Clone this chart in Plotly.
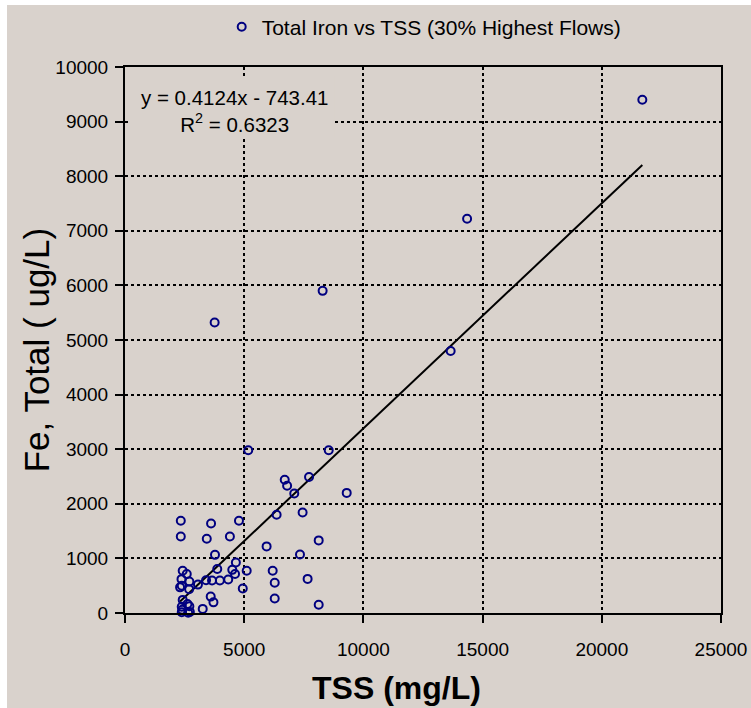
import plotly.graph_objects as go

# ---- data ----
tss = [21700, 14350, 8290, 3760, 13660, 5170, 8545, 7720, 6700, 6800,
       9300, 7100, 7450, 6360, 2340, 4780, 3610, 2340, 4400, 3430,
       8125, 5940, 3775, 7340, 4650, 3870, 4500, 2420, 5105, 6195,
       2590, 4615, 7660, 2370, 3400, 3650, 3980, 4330, 2700, 6280,
       3060, 2310, 2380, 4940, 2690, 3595, 6280, 2420, 3710, 2620,
       8125, 2700, 2380, 3260, 2400, 2720, 2380, 2650]
fe_total = [9400, 7220, 5900, 5320, 4800, 2980, 2980, 2490, 2440, 2330,
            2200, 2190, 1840, 1800, 1690, 1690, 1640, 1400, 1400, 1360,
            1330, 1220, 1065, 1070, 925, 805, 790, 775, 775, 775,
            715, 715, 625, 620, 600, 595, 595, 615, 575, 555,
            520, 470, 500, 450, 435, 300, 265, 240, 195, 165,
            150, 125, 115, 75, 60, 20, 15, 5]

slope = 0.4124
intercept = -743.41
r_squared = 0.6323
series_name = "Total Iron vs TSS (30% Highest Flows)"
x_title = "TSS (mg/L)"
y_title = "Fe, Total ( ug/L)"
x_ticks = [0, 5000, 10000, 15000, 20000, 25000]
y_ticks = [0, 1000, 2000, 3000, 4000, 5000, 6000, 7000, 8000, 9000, 10000]

BG = "#D9D2CC"
NAVY = "#000080"
FONT = "Liberation Sans, Arial, sans-serif"

fig = go.Figure()

# trendline across the data range
x_line = [min(tss), max(tss)]
y_line = [slope * v + intercept for v in x_line]
fig.add_trace(go.Scatter(x=x_line, y=y_line, mode="lines",
                         line=dict(color="black", width=2),
                         showlegend=False, hoverinfo="skip"))

fig.add_trace(go.Scatter(x=tss, y=fe_total, mode="markers", name=series_name,
                         marker=dict(symbol="circle-open", size=8, color=NAVY,
                                     line=dict(width=2, color=NAVY)),
                         cliponaxis=False))

axis_common = dict(
    showline=True, linecolor="black", linewidth=2, mirror=True,
    ticks="outside", ticklen=8, tickwidth=2, tickcolor="black",
    showgrid=True, gridcolor="black", gridwidth=1.5, griddash="dot",
    zeroline=False, automargin=False,
    tickfont=dict(family=FONT, size=19, color="black"),
)

fig.update_xaxes(range=[0, 25000], tickvals=x_ticks, ticktext=[str(v) for v in x_ticks],
                 ticklabelstandoff=10, **axis_common)
fig.update_yaxes(range=[0, 10000], tickvals=y_ticks, ticktext=[str(v) for v in y_ticks],
                 ticklabelstandoff=3, **axis_common)

# axis titles (placed where the reference has them)
fig.add_annotation(xref="paper", yref="paper", x=0.4547, y=-0.1374,
                   xanchor="center", yanchor="middle", showarrow=False,
                   text=f"<b>{x_title}</b>",
                   font=dict(family=FONT, size=32, color="black"))
fig.add_annotation(xref="paper", yref="paper", x=-0.1495, y=0.481,
                   xanchor="center", yanchor="middle", showarrow=False,
                   textangle=-90, text=y_title,
                   font=dict(family=FONT, size=35, color="black"))

# box behind the equation that hides the gridlines
fig.add_shape(type="rect", xref="paper", yref="paper",
              x0=0.006, x1=0.352, y0=0.872, y1=0.982,
              fillcolor=BG, line=dict(width=0), layer="above")

fig.add_annotation(xref="paper", yref="paper", x=0.184, y=0.92,
                   xanchor="center", yanchor="middle", align="center",
                   text=f"y = {slope}x - {abs(intercept)}<br>R<sup>2</sup> = {r_squared}",
                   showarrow=False,
                   font=dict(family=FONT, size=20.5, color="black"))

# thin white strips at the top and left of the picture
fig.add_shape(type="rect", xref="paper", yref="paper",
              x0=-0.2097, x1=-0.198, y0=-0.174, y1=1.123,
              fillcolor="white", line=dict(width=0), layer="above")
fig.add_shape(type="rect", xref="paper", yref="paper",
              x0=-0.2097, x1=1.0503, y0=1.1136, y1=1.123,
              fillcolor="white", line=dict(width=0), layer="above")

fig.update_layout(
    width=751, height=708,
    margin=dict(l=125, r=30, t=67, b=95, autoexpand=False),
    paper_bgcolor=BG, plot_bgcolor=BG,
    font=dict(family=FONT, color="black"),
    showlegend=True,
    legend=dict(x=0.502, y=1.073, xanchor="center", yanchor="middle",
                orientation="h", bgcolor="rgba(0,0,0,0)",
                font=dict(family=FONT, size=21, color="black"),
                itemwidth=30),
)

fig.write_html("out.html")
